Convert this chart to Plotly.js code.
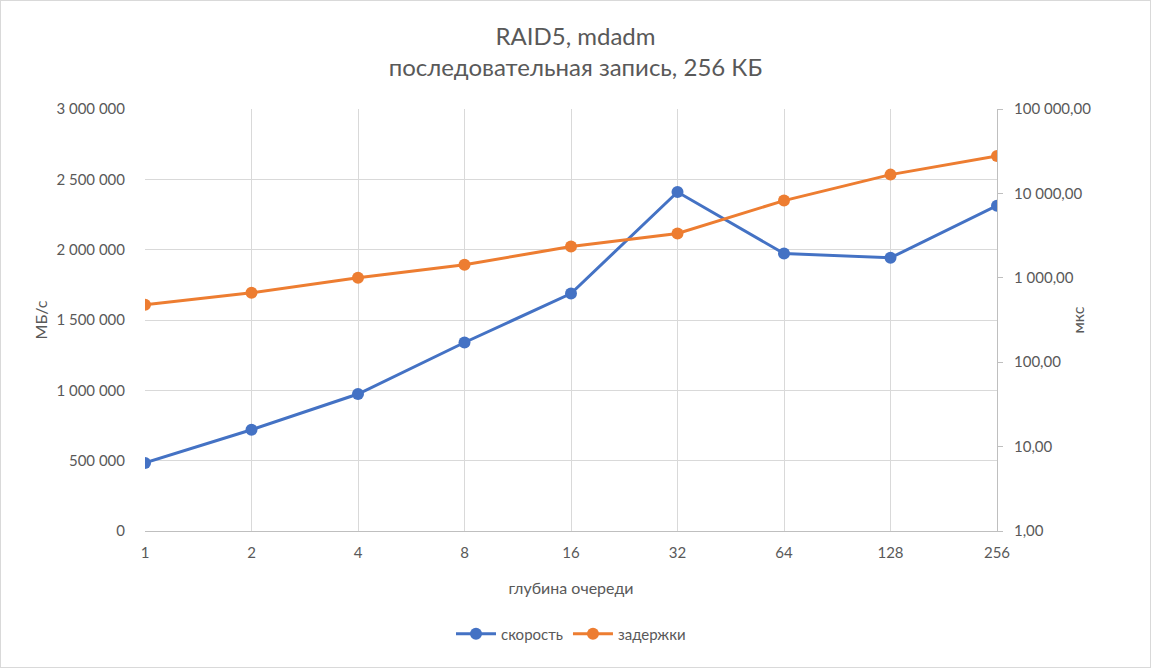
<!DOCTYPE html>
<html>
<head>
<meta charset="utf-8">
<script src="https://cdn.plot.ly/plotly-3.0.1.min.js"></script>
<style>
  html, body { margin: 0; padding: 0; background: #fff; }
  #chart { width: 1149px; height: 666px; border: 1px solid #d9d9d9; }
</style>
</head>
<body>
<div id="chart"></div>
<script>
// queue depth categories
const queueDepth = ['1', '2', '4', '8', '16', '32', '64', '128', '256'];
// throughput, MB/s (left axis)
const speed = [484000, 720000, 974000, 1340000, 1688000, 2410000, 1972000, 1942000, 2313000];
// latency, us (right, log axis)
const latency = [479, 664, 1000, 1426, 2346, 3344, 8220, 16690, 27800];

const leftTicks = [0, 500000, 1000000, 1500000, 2000000, 2500000, 3000000];
const rightTicks = [1, 10, 100, 1000, 10000, 100000];

const FONT = 'Lato, "Noto Sans", sans-serif';
const TEXT = '#595959';

const traces = [{
  x: queueDepth,
  y: speed,
  name: 'скорость',
  type: 'scatter',
  mode: 'lines+markers',
  line: { color: '#4472C4', width: 3 },
  marker: { color: '#4472C4', size: 12 },
  yaxis: 'y'
}, {
  x: queueDepth,
  y: latency,
  name: 'задержки',
  type: 'scatter',
  mode: 'lines+markers',
  line: { color: '#ED7D31', width: 3 },
  marker: { color: '#ED7D31', size: 12 },
  yaxis: 'y2'
}];

const layout = {
  width: 1149,
  height: 666,
  margin: { l: 144, r: 153, t: 108, b: 136 },
  paper_bgcolor: '#fff',
  plot_bgcolor: '#fff',
  separators: ', ',
  font: { family: FONT, size: 15, color: TEXT },
  title: {
    text: 'RAID5, mdadm<br>последовательная запись, 256 КБ',
    font: { family: FONT, size: 24, color: TEXT },
    x: 0.5,
    xanchor: 'center',
    yref: 'container',
    y: 0.934,
    yanchor: 'middle'
  },
  xaxis: {
    type: 'category',
    range: [0, queueDepth.length - 1],
    showgrid: true,
    gridcolor: '#d9d9d9',
    gridwidth: 1,
    showline: true,
    linecolor: '#bfbfbf',
    linewidth: 1,
    ticks: '',
    ticklabelstandoff: 8,
    tickfont: { size: 15, color: TEXT },
    title: { text: 'глубина очереди', font: { size: 16, color: TEXT }, standoff: 22 },
    fixedrange: true
  },
  yaxis: {
    range: [0, 3000000],
    tickvals: leftTicks,
    tickformat: ',d',
    showgrid: true,
    gridcolor: '#d9d9d9',
    gridwidth: 1,
    zeroline: false,
    showline: false,
    ticks: '',
    ticklabelstandoff: 19,
    tickfont: { size: 15, color: TEXT },
    title: { text: 'МБ/с', font: { size: 16, color: TEXT }, standoff: 4 }
  },
  yaxis2: {
    type: 'log',
    range: [0, 5],
    overlaying: 'y',
    side: 'right',
    tickvals: rightTicks,
    tickformat: ',.2f',
    showgrid: false,
    zeroline: false,
    showline: true,
    linecolor: '#bfbfbf',
    linewidth: 1,
    ticks: 'outside',
    ticklen: 5,
    tickcolor: '#bfbfbf',
    ticklabelstandoff: 8,
    tickfont: { size: 15, color: TEXT }
  },
  annotations: [{
    text: 'мкс',
    xref: 'paper',
    yref: 'paper',
    x: 1,
    y: 0.5,
    xshift: 91,
    showarrow: false,
    textangle: -90,
    font: { size: 16, color: TEXT }
  }],
  showlegend: true,
  legend: {
    orientation: 'h',
    x: 0.5,
    xanchor: 'center',
    y: -0.205,
    yanchor: 'top',
    itemwidth: 40,
    font: { size: 15, color: TEXT }
  }
};

Plotly.newPlot('chart', traces, layout, { displayModeBar: false, staticPlot: true });
</script>
</body>
</html>
